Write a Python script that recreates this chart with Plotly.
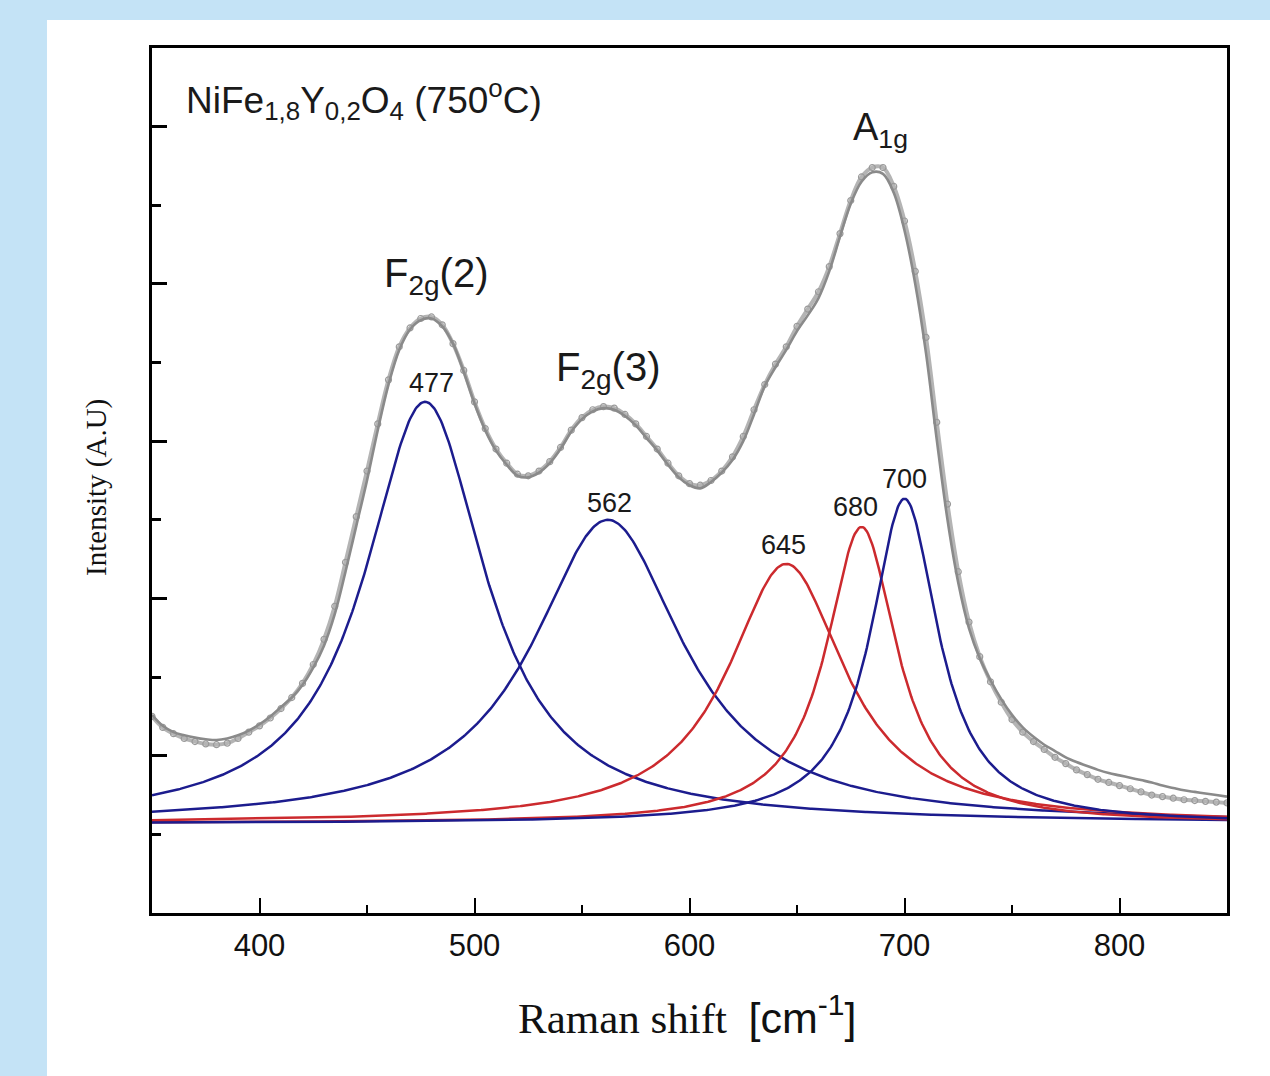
import numpy as np
import plotly.graph_objects as go

# ---------------- data ----------------
shift = list(range(350, 851, 5))  # Raman shift, cm^-1

measured = [1.25, 1.18, 1.14, 1.11, 1.09, 1.075, 1.07, 1.08, 1.11, 1.15,
            1.19, 1.24, 1.30, 1.37, 1.46, 1.58, 1.74, 1.95, 2.23, 2.52,
            2.81, 3.11, 3.39, 3.60, 3.72, 3.78, 3.79, 3.74, 3.62, 3.45,
            3.25, 3.08, 2.95, 2.86, 2.79, 2.78, 2.81, 2.87, 2.96, 3.07,
            3.15, 3.20, 3.22, 3.21, 3.17, 3.11, 3.03, 2.95, 2.86, 2.78,
            2.73, 2.72, 2.75, 2.81, 2.90, 3.03, 3.20, 3.36, 3.49, 3.60,
            3.73, 3.84, 3.95, 4.11, 4.32, 4.53, 4.68, 4.74, 4.74, 4.62,
            4.40, 4.08, 3.66, 3.12, 2.60, 2.17, 1.85, 1.63, 1.47, 1.34,
            1.23, 1.15, 1.09, 1.04, 0.99, 0.95, 0.91, 0.88, 0.85, 0.83,
            0.81, 0.79, 0.77, 0.75, 0.74, 0.73, 0.72, 0.715, 0.71, 0.705,
            0.70]

fitted = [1.26, 1.19, 1.15, 1.13, 1.115, 1.105, 1.10, 1.11, 1.13, 1.16,
          1.20, 1.25, 1.31, 1.37, 1.45, 1.56, 1.70, 1.90, 2.17, 2.46,
          2.75, 3.07, 3.36, 3.58, 3.71, 3.77, 3.78, 3.73, 3.62, 3.44,
          3.24, 3.07, 2.94, 2.85, 2.78, 2.77, 2.80, 2.86, 2.95, 3.06,
          3.14, 3.19, 3.21, 3.20, 3.16, 3.10, 3.02, 2.94, 2.85, 2.77,
          2.72, 2.70, 2.74, 2.80, 2.88, 3.00, 3.17, 3.35, 3.47, 3.58,
          3.70, 3.80, 3.91, 4.08, 4.30, 4.51, 4.65, 4.71, 4.70, 4.58,
          4.34, 4.00, 3.56, 3.01, 2.50, 2.10, 1.81, 1.62, 1.48, 1.36,
          1.26, 1.18, 1.12, 1.07, 1.03, 0.99, 0.96, 0.935, 0.91, 0.89,
          0.875, 0.86, 0.845, 0.83, 0.81, 0.795, 0.78, 0.77, 0.76, 0.75,
          0.74]

# Lorentzian fit components (positions as labelled on the chart)
peak_pos = [477, 562, 645, 680, 700]
peak_height = [2.68, 1.93, 1.65, 1.885, 2.064]
peak_hwhm = [34, 42.5, 33, 20, 19]
peak_color = ["#1c1c8e", "#1c1c8e", "#cc2a2e", "#cc2a2e", "#1c1c8e"]
peak_labels = ["477", "562", "645", "680", "700"]
label_x = [480, 562.6, 643.5, 677, 700]
label_y = [3.37, 2.61, 2.34, 2.58, 2.76]
baseline = 0.57

x_ticks = [400, 500, 600, 700, 800]
x_minor = [450, 550, 650, 750]
y_ticks = [1, 2, 3, 4, 5]
y_minor = [0.5, 1.5, 2.5, 3.5, 4.5]

# ---------------- figure ----------------
fig = go.Figure()

fig.add_trace(go.Scatter(
    x=shift, y=measured, mode="lines+markers", line_shape="spline",
    line=dict(color="#b4b4b4", width=4),
    marker=dict(symbol="circle-open", size=6, color="#9a9a9a",
                line=dict(width=1.2, color="#9a9a9a")),
    showlegend=False, hoverinfo="skip"))

fig.add_trace(go.Scatter(
    x=shift, y=fitted, mode="lines", line_shape="spline",
    line=dict(color="#8a8a8a", width=2.6),
    showlegend=False, hoverinfo="skip"))

xg = np.linspace(350, 850, 801)
for c, h, g, col in zip(peak_pos, peak_height, peak_hwhm, peak_color):
    yv = baseline + h * g ** 2 / ((xg - c) ** 2 + g ** 2)
    fig.add_trace(go.Scatter(x=xg, y=yv, mode="lines",
                             line=dict(color=col, width=2.5),
                             showlegend=False, hoverinfo="skip"))

ann = []
for lx, ly, t in zip(label_x, label_y, peak_labels):
    ann.append(dict(x=lx, y=ly, text=t, showarrow=False,
                    font=dict(family="Liberation Sans, Arial", size=27, color="#1a1a1a")))

big = dict(family="Liberation Sans, Arial", size=40, color="#1a1a1a")
ann.append(dict(x=457.0, y=4.05, xanchor="left", text="F<sub>2g</sub>(2)", showarrow=False, font=big))
ann.append(dict(x=537.0, y=3.45, xanchor="left", text="F<sub>2g</sub>(3)", showarrow=False, font=big))
ann.append(dict(x=675.2, y=4.98, xanchor="left", text="A<sub>1g</sub>", showarrow=False,
                font=dict(family="Liberation Sans, Arial", size=38, color="#1a1a1a")))
ann.append(dict(x=365.0, y=5.17, xanchor="left",
                text="NiFe<sub>1,8</sub>Y<sub>0,2</sub>O<sub>4</sub> (750<sup>o</sup>C)",
                showarrow=False,
                font=dict(family="Liberation Sans, Arial", size=37, color="#1a1a1a")))

ann.append(dict(xref="paper", yref="paper", x=0.4986, y=-0.152, xanchor="center",
                text="Raman shift  <span style=\"font-family:Liberation Sans, Arial\">[cm<sup>-1</sup>]</span>",
                showarrow=False,
                font=dict(family="Liberation Serif, Times New Roman", size=43, color="#111")))
ann.append(dict(xref="paper", yref="paper", x=-0.0512, y=0.4925, textangle=-90,
                xanchor="center", yanchor="middle",
                text="Intensity (A.U)", showarrow=False,
                font=dict(family="Liberation Serif, Times New Roman", size=29, color="#111")))

fig.update_layout(
    width=1270, height=1076,
    margin=dict(l=152, r=43, t=48, b=163),
    paper_bgcolor="#c4e3f6", plot_bgcolor="white",
    annotations=ann,
    shapes=[dict(type="rect", xref="paper", yref="paper",
                 x0=-0.0977, x1=1.06, y0=-0.2, y1=1.0324,
                 fillcolor="white", line=dict(width=0), layer="below")],
)

fig.update_xaxes(range=[350, 850], tickvals=x_ticks, ticks="inside", ticklen=15,
                 tickwidth=2, tickcolor="black", showline=True, linewidth=2.5,
                 linecolor="black", mirror=True, showgrid=False, zeroline=False,
                 ticklabelstandoff=3,
                 tickfont=dict(family="Liberation Sans, Arial", size=31, color="#111"),
                 minor=dict(tickvals=x_minor, ticks="inside", ticklen=8, tickwidth=2,
                            tickcolor="black", showgrid=False))
fig.update_yaxes(range=[0, 5.5], tickvals=y_ticks, ticks="inside", ticklen=15,
                 tickwidth=2.5, tickcolor="black", showline=True, linewidth=2.5,
                 linecolor="black", mirror=True, showgrid=False, zeroline=False,
                 showticklabels=False,
                 minor=dict(tickvals=y_minor, ticks="inside", ticklen=9, tickwidth=2.5,
                            tickcolor="black", showgrid=False))

fig.write_html("out.html")
